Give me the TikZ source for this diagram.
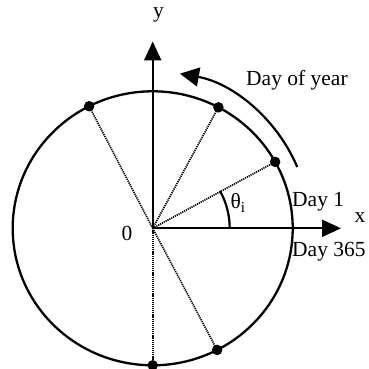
\documentclass[tikz,border=0pt]{standalone}
\usepackage{fontspec}
\setmainfont{Liberation Serif}
\usetikzlibrary{arrows.meta,calc}
\begin{document}
\begin{tikzpicture}[x=1pt,y=1pt,
  lbl/.style={font=\fontsize{21.5}{24}\selectfont, inner sep=0pt},
  dotmark/.style={circle, fill=black, inner sep=0pt, minimum size=10.5pt},
  radial/.style={line width=1.6pt, dash pattern=on 1.2pt off 0.9pt},
  axis/.style={line width=2.2pt, -{Triangle[length=19pt,width=17pt]}},
  rim/.style={line width=2.3pt}]
\useasboundingbox (0,0) rectangle (368,369);
\coordinate (O) at (152.7,140.7);
% circle
\draw[rim] (O) ellipse [x radius=140, y radius=137];
% points on the circle
\foreach \n/\a in {p1/117, p2/62, p3/29, p4/-62.6, p5/-90}{
  \coordinate (\n) at ($(O)+({140*cos(\a)},{137*sin(\a)})$);
}
\foreach \n in {p1,p2,p3,p4,p5}{
  \draw[radial] (O) -- (\n);
  \node[dotmark] (d\n) at (\n) {};
}
% axes
\coordinate (ytip) at (152.7,327.5);
\coordinate (xtip) at (341,140.7);
\draw[axis] (O) -- (ytip);
\draw[axis] (O) -- (xtip);
% angle arc
\draw[line width=2.2pt] ($(O)+(77,0)$) arc[start angle=0, end angle=29, radius=77];
% day of year arc
\draw[line width=2.2pt, -{Triangle[length=19pt,width=19pt]}] ($(O)+(23:157)$) arc[start angle=23, end angle=80, radius=157];
% labels
\node[lbl] (ylab) at (158.5,354.5) {y};
\node[lbl] (xlab) at (360,151) {x};
\node[lbl] (zero) at (127,136) {0};
\node[lbl, anchor=west] (day1) at (292,167) {Day 1};
\node[lbl, anchor=west] (day365) at (292,117) {Day 365};
\node[lbl, anchor=west] (doy) at (246,289) {Day of year};
\node[lbl] (theta) at (238,166) {θ\textsubscript{i}};
\end{tikzpicture}
\end{document}
